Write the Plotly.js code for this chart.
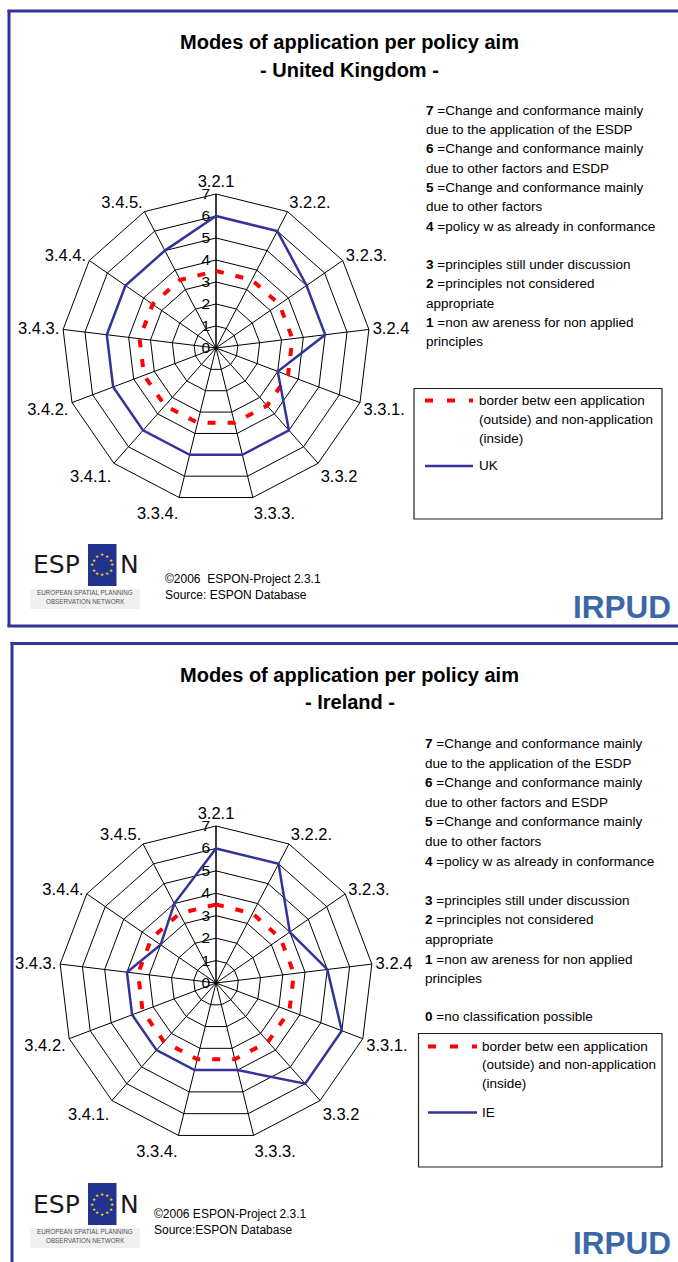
<!DOCTYPE html>
<html>
<head>
<meta charset="utf-8">
<script src="https://cdn.plot.ly/plotly-3.0.1.min.js"></script>
<style>
html,body{margin:0;padding:0;background:#fff;}
#chart{width:678px;height:1262px;}
</style>
</head>
<body>
<div id="chart"></div>
<script>
// ---------- DATA ----------
var categories = ['3.2.1','3.2.2.','3.2.3.','3.2.4','3.3.1.','3.3.2','3.3.3.','3.3.4.','3.4.1.','3.4.2.','3.4.3.','3.4.4.','3.4.5.'];
var ukValues = [6,6,5,5,3,5,5,5,5,5,5,5,5];
var ieValues = [6,6,4,5,6,6,4,4,4,4,4,3,4];
var borderValues = [3.5,3.5,3.5,3.5,3.5,3.5,3.5,3.5,3.5,3.5,3.5,3.5,3.5];
var radialTicks = [0,1,2,3,4,5,6,7];
var legendLinesMain = [
  ['7','Change and conformance mainly'],
  ['','due to the application of the ESDP'],
  ['6','Change and conformance mainly'],
  ['','due to other factors and ESDP'],
  ['5','Change and conformance mainly'],
  ['','due to other factors'],
  ['4','policy w as already in conformance'],
  null,
  ['3','principles still under discussion'],
  ['2','principles not considered'],
  ['','appropriate'],
  ['1','non aw areness for non applied'],
  ['','principles']
];
var zeroLine = ['0','no classification possible'];
var titleMain = 'Modes of application per policy aim';
var subtitleUK = '- United Kingdom -';
var subtitleIE = '- Ireland -';
var borderLabel = ['border betw een application','(outside) and non-application','(inside)'];

// ---------- HELPERS ----------
var W = 678, H = 1262;
function px(x){ return x / W; }
function py(y){ return 1 - y / H; }
var FONT = 'Liberation Sans, Arial, sans-serif';
var NAVY = '#333399';

function closed(arr){ return arr.concat([arr[0]]); }

var annotations = [];
var shapes = [];
function text(x, y, t, opt){
  opt = opt || {};
  annotations.push({
    xref:'paper', yref:'paper', x:px(x), y:py(y), text:t, showarrow:false,
    xanchor: opt.anchor || 'left', yanchor: opt.yanchor || 'middle',
    borderpad: opt.borderpad === undefined ? 1 : opt.borderpad,
    font:{family: opt.family || FONT, size: opt.size || 13.5, color: opt.color || '#000', weight: opt.weight || 'normal'},
    align: opt.anchor === 'center' ? 'center' : 'left'
  });
}
function line(x0,y0,x1,y1,color,width,dash){
  shapes.push({type:'line', xref:'paper', yref:'paper', layer:'below', x0:px(x0), y0:py(y0), x1:px(x1), y1:py(y1),
    line:{color:color, width:width, dash: dash || 'solid'}});
}
function rect(x0,y0,x1,y1,lineColor,fill,width){
  shapes.push({type:'rect', xref:'paper', yref:'paper', layer:'below', x0:px(x0), y0:py(y0), x1:px(x1), y1:py(y1),
    line:{color:lineColor, width: width === undefined ? 1 : width}, fillcolor: fill || 'rgba(0,0,0,0)'});
}

function espon(oy){
  rect(30, 589+oy, 140, 609+oy, 'rgba(0,0,0,0)', '#f0f0f0', 0);
  text(31, 565+oy, 'ESP', {size:25, color:'#1b1b1b', family:'DejaVu Sans, sans-serif'});
  rect(88, 544+oy, 116.5, 586+oy, 'rgba(0,0,0,0)', '#22338f', 0);
  text(117.5, 565+oy, 'N', {size:25, color:'#1b1b1b', family:'DejaVu Sans, sans-serif'});
  for (var k=0;k<12;k++){
    var a = k*Math.PI/6;
    text(102.3 + 10*Math.cos(a), 565+oy + 10*Math.sin(a), '★', {anchor:'center', size:4.5, color:'#ffd800', family:'DejaVu Sans'});
  }
  text(85, 592.5+oy, 'EUROPEAN SPATIAL PLANNING', {anchor:'center', size:6.3, color:'#555'});
  text(85, 601+oy, 'OBSERVATION NETWORK', {anchor:'center', size:6.3, color:'#555'});
}
function irpud(y, anchor){
  text(572, y, 'IRPUD', {size:31.5, color:'#3a68a6', family:'Liberation Sans, Arial, sans-serif', weight:'bold',
    yanchor: anchor || 'middle', borderpad:0});
}

// ---------- FRAMES ----------
line(7.5, 11, 678, 11, NAVY, 3);
line(9, 10, 9, 626.5, NAVY, 3);
line(7.5, 626, 678, 626, NAVY, 3);
line(10.5, 643.5, 678, 643.5, NAVY, 3);
line(12, 642, 12, 1262, NAVY, 3);

// ---------- TITLES ----------
text(349.5, 42, '<b>' + titleMain + '</b>', {anchor:'center', size:20});
text(350, 70, '<b>' + subtitleUK + '</b>', {anchor:'center', size:20});
text(349.5, 675, '<b>' + titleMain + '</b>', {anchor:'center', size:20});
text(349.5, 702, '<b>' + subtitleIE + '</b>', {anchor:'center', size:20});

// ---------- SCALE TEXTS ----------
function scaleText(x, y0, step, withZero, y0zero){
  for (var i=0;i<legendLinesMain.length;i++){
    var l = legendLinesMain[i];
    if (!l) continue;
    var t = l[0] ? '<b>' + l[0] + '</b> =' + l[1] : l[1];
    text(x, y0 + i*step, t, {size:13.5});
  }
  if (withZero){
    text(x, y0zero, '<b>' + zeroLine[0] + '</b> =' + zeroLine[1], {size:13.5});
  }
}
scaleText(424, 110.5, 19.25, false);
scaleText(423, 743.5, 19.6, true, 1016.5);

// ---------- LEGEND BOXES ----------
function legendBox(x0,y0,x1,y1, sx0, sx1, tx, ly, lstep, blueY, name){
  rect(x0,y0,x1,y1,'#222','#fff',1.2);
  line(sx0, ly, sx1, ly, '#ff0000', 4, '8px,14px');
  for (var i=0;i<borderLabel.length;i++) text(tx, ly + i*lstep, borderLabel[i], {size:13.5});
  line(sx0, blueY, sx1, blueY, NAVY, 2.5);
  text(tx, blueY, name, {size:13.5});
}
legendBox(414, 388.5, 662, 519, 425, 473, 476.5, 400.5, 19, 466, 'UK');
legendBox(418.5, 1033.5, 662, 1167, 428, 477, 480, 1046.5, 18.3, 1112.5, 'IE');

// ---------- LOGOS / SOURCE ----------
espon(0);
espon(639);
text(163, 578.5, '©2006  ESPON-Project 2.3.1', {size:12});
text(163, 595, 'Source: ESPON Database', {size:12});
text(152, 1214, '©2006 ESPON-Project 2.3.1', {size:12});
text(152, 1230, 'Source:ESPON Database', {size:12});
irpud(607);
irpud(1262, 'bottom');

// ---------- TRACES ----------
var traces = [
  {type:'scatterpolar', subplot:'polar', theta:closed(categories), r:closed(borderValues), mode:'lines',
   line:{color:'#ff0000', width:4, dash:'8px,12px'}, name:'border', showlegend:false, hoverinfo:'skip'},
  {type:'scatterpolar', subplot:'polar', theta:closed(categories), r:closed(ukValues), mode:'lines',
   line:{color:NAVY, width:2.5}, name:'UK', showlegend:false, hoverinfo:'skip'},
  {type:'scatterpolar', subplot:'polar2', theta:closed(categories), r:closed(borderValues), mode:'lines',
   line:{color:'#ff0000', width:4, dash:'8px,12px'}, name:'border', showlegend:false, hoverinfo:'skip'},
  {type:'scatterpolar', subplot:'polar2', theta:closed(categories), r:closed(ieValues), mode:'lines',
   line:{color:NAVY, width:2.5}, name:'IE', showlegend:false, hoverinfo:'skip'}
];

function polarCfg(xd, yd){
  return {
    domain:{x:xd, y:yd},
    bgcolor:'rgba(0,0,0,0)',
    gridshape:'linear',
    angularaxis:{
      type:'category', categoryarray:categories, direction:'clockwise', rotation:90,
      showline:true, linecolor:'#000', linewidth:1, gridcolor:'#000', gridwidth:1,
      ticks:'', tickfont:{family:FONT, size:16.5, color:'#000'}, layer:'below traces'
    },
    radialaxis:{
      range:[0,7], tickvals:radialTicks, ticktext:radialTicks.map(String), angle:90, tickangle:90,
      side:'counterclockwise', showline:true, linecolor:'#000', linewidth:1,
      gridcolor:'#000', gridwidth:1, ticks:'', tickfont:{family:FONT, size:15.5, color:'#000'},
      layer:'below traces'
    }
  };
}

var layout = {
  width:W, height:H, margin:{l:0,r:0,t:0,b:0},
  paper_bgcolor:'#fff', plot_bgcolor:'#fff',
  showlegend:false, hovermode:false,
  polar: polarCfg([px(62), px(370)], [py(502), py(194)]),
  polar2: polarCfg([px(59), px(373)], [py(1140), py(826)]),
  annotations: annotations,
  shapes: shapes
};

Plotly.newPlot('chart', traces, layout, {displayModeBar:false, staticPlot:true});
</script>
</body>
</html>
